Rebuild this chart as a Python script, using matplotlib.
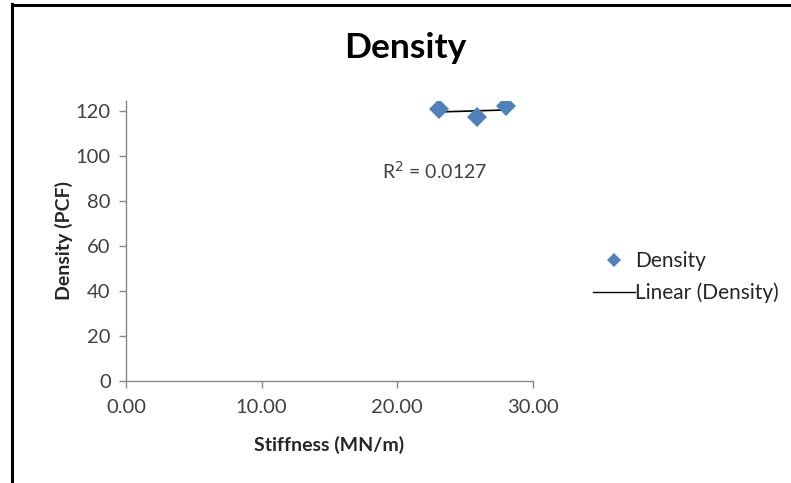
import numpy as np
import matplotlib
matplotlib.use("Agg")
import matplotlib.pyplot as plt
from matplotlib.lines import Line2D

# Measured samples
stiffness = [23.1, 25.9, 28.0]          # MN/m
density = [120.9, 117.2, 122.2]         # PCF
r2_label = "R$^2$ = 0.0127"

x_ticks = [0, 10, 20, 30]
y_ticks = [0, 20, 40, 60, 80, 100, 120]

plt.rcParams['font.family'] = ['Lato', 'DejaVu Sans']

fig = plt.figure(figsize=(7.91, 4.83), dpi=100)
W, H = 791, 483
ax = fig.add_axes([126 / W, 1 - 381 / H, (533 - 126) / W, (381 - 101) / H])

blue = "#4F81BD"
axis_gray = "#868686"

ax.plot(stiffness, density, linestyle="none", marker="D", markersize=10,
        markeredgewidth=0, color=blue, zorder=3)

# Linear trendline over the data range
coef = np.polyfit(stiffness, density, 1)
xs = np.array([min(stiffness), max(stiffness)])
ax.plot(xs, np.polyval(coef, xs), color="black", linewidth=1.2, zorder=2)

# R² annotation, positioned in pixel coordinates (origin bottom-left)
fig.text(382 / W, 1 - 171 / H, r2_label, fontsize=14, color="#404040",
         va="center", ha="left")

ax.set_xlim(0, 30)
ax.set_ylim(0, 124.5)
ax.set_xticks(x_ticks)
ax.set_xticklabels([f"{v:.2f}" for v in x_ticks])
ax.set_yticks(y_ticks)
ax.set_yticklabels([str(v) for v in y_ticks])

for side in ("top", "right"):
    ax.spines[side].set_visible(False)
for side in ("left", "bottom"):
    ax.spines[side].set_color(axis_gray)
    ax.spines[side].set_linewidth(1.0)
ax.tick_params(axis="both", colors=axis_gray, length=5, width=1.0,
               labelsize=14.5, labelcolor="#404040", direction="out")
ax.tick_params(axis="x", pad=8)
ax.tick_params(axis="y", pad=6)

ax.set_xlabel("Stiffness (MN/m)", fontsize=14, fontweight="bold",
              color="#262626", labelpad=14)
ax.set_ylabel("Density (PCF)", fontsize=14, fontweight="bold",
              color="#262626", labelpad=2)

fig.text(405 / W, 1 - 48 / H, "Density", fontsize=25.5, fontweight="bold",
         ha="center", va="center", color="black")

handles = [
    Line2D([], [], linestyle="none", marker="D", markersize=7,
           markeredgewidth=0, color=blue),
    Line2D([], [], color="black", linewidth=1.0),
]
fig.legend(handles, ["Density", "Linear (Density)"], loc="center left",
           bbox_to_anchor=(593 / W, 1 - 277 / H), frameon=False,
           fontsize=15, labelspacing=0.55, handlelength=2.0, handletextpad=0.0,
           labelcolor="#262626", borderaxespad=0, borderpad=0)

# Frame lines on the left and top edges
fig.add_artist(Line2D([12.5 / W, 12.5 / W], [0, 1 - 4 / H], transform=fig.transFigure,
                      color="black", linewidth=2.2))
fig.add_artist(Line2D([12.5 / W, 1], [1 - 5 / H, 1 - 5 / H], transform=fig.transFigure,
                      color="black", linewidth=2.2))

fig.savefig("out.png", dpi=100, facecolor="white")
